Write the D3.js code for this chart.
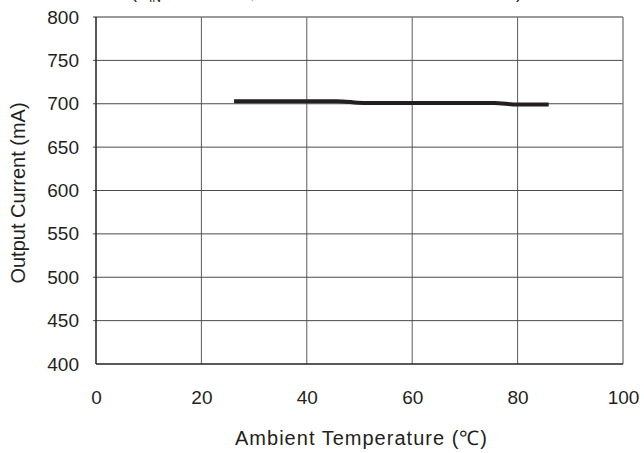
<!DOCTYPE html>
<html>
<head>
<meta charset="utf-8">
<script src="https://d3js.org/d3.v7.min.js"></script>
<style>
  body { margin: 0; background: #fff; }
  text { font-family: "Liberation Sans", Arial, sans-serif; fill: #231f20; }
</style>
</head>
<body>
<svg width="644" height="453"></svg>
<script>
// data
const temps = [26.2, 45.7, 50.8, 75.5, 80.0, 85.9];
const current = [703, 703, 701, 701, 699, 699];
const xTicks = [0, 20, 40, 60, 80, 100];
const yTicks = [400, 450, 500, 550, 600, 650, 700, 750, 800];

const svg = d3.select("svg");
const margin = { top: 17, left: 96, right: 21, bottom: 89 };
const width = 644 - margin.left - margin.right;
const height = 453 - margin.top - margin.bottom;

const x = d3.scaleLinear().domain([0, 100]).range([0, width]);
const y = d3.scaleLinear().domain([400, 800]).range([height, 0]);

const g = svg.append("g").attr("transform", `translate(${margin.left},${margin.top})`);

// grid
g.append("g").selectAll("line").data(xTicks.slice(1, -1)).join("line")
  .attr("x1", d => x(d)).attr("x2", d => x(d))
  .attr("y1", 0).attr("y2", height)
  .attr("stroke", "#5a5a5a").attr("stroke-width", 1);
g.append("g").selectAll("line").data(yTicks.slice(1, -1)).join("line")
  .attr("x1", -3).attr("x2", width)
  .attr("y1", d => y(d)).attr("y2", d => y(d))
  .attr("stroke", "#4a4a4a").attr("stroke-width", 1);

// frame
g.append("line").attr("x1", -3).attr("x2", width).attr("y1", 0).attr("y2", 0)
  .attr("stroke", "#777").attr("stroke-width", 1.5);
g.append("line").attr("x1", width).attr("x2", width).attr("y1", 0).attr("y2", height)
  .attr("stroke", "#888").attr("stroke-width", 1.5);
g.append("line").attr("x1", 0).attr("x2", 0).attr("y1", 0).attr("y2", height)
  .attr("stroke", "#222").attr("stroke-width", 1.5);
g.append("line").attr("x1", 0).attr("x2", width).attr("y1", height).attr("y2", height)
  .attr("stroke", "#222").attr("stroke-width", 1.5);

// axes labels
const xAxis = d3.axisBottom(x).tickValues(xTicks).tickSize(0).tickPadding(27);
g.append("g").attr("transform", `translate(0,${height})`).call(xAxis)
  .call(a => a.select(".domain").remove())
  .selectAll("text").style("font-size", "19px").attr("fill", "#231f20");

const yAxis = d3.axisLeft(y).tickValues(yTicks).tickSize(0).tickPadding(17);
g.append("g").call(yAxis)
  .call(a => a.select(".domain").remove())
  .selectAll("text").style("font-size", "19px").attr("fill", "#231f20");

// curve
const line = d3.line().x(d => x(d[0])).y(d => y(d[1])).curve(d3.curveMonotoneX);
g.append("path")
  .datum(temps.map((t, i) => [t, current[i]]))
  .attr("d", line)
  .attr("fill", "none")
  .attr("stroke", "#231f20")
  .attr("stroke-width", 4);

// titles
svg.append("text")
  .attr("x", 361).attr("y", 445)
  .attr("text-anchor", "middle").style("font-size", "20px")
  .attr("textLength", 252).attr("lengthAdjust", "spacing")
  .text("Ambient Temperature (℃)");

svg.append("text")
  .attr("transform", `translate(25,${193}) rotate(-90)`)
  .attr("text-anchor", "middle").style("font-size", "20px")
  .text("Output Current (mA)");

// condition line at the very top, mostly cut off by the edge
const cond = svg.append("text").attr("x", 131).attr("y", -2).style("font-size", "18px");
cond.append("tspan").text("(V");
cond.append("tspan").attr("dy", 4).style("font-size", "12px").text("IN");
cond.append("tspan").attr("dy", -4).text(" = 24V  ");
svg.append("text").attr("x", 250).attr("y", -2).style("font-size", "18px").text(",");
svg.append("text").attr("x", 522).attr("y", -2).attr("text-anchor", "end")
  .style("font-size", "18px").text("LED: 3 in series)");
</script>
</body>
</html>
